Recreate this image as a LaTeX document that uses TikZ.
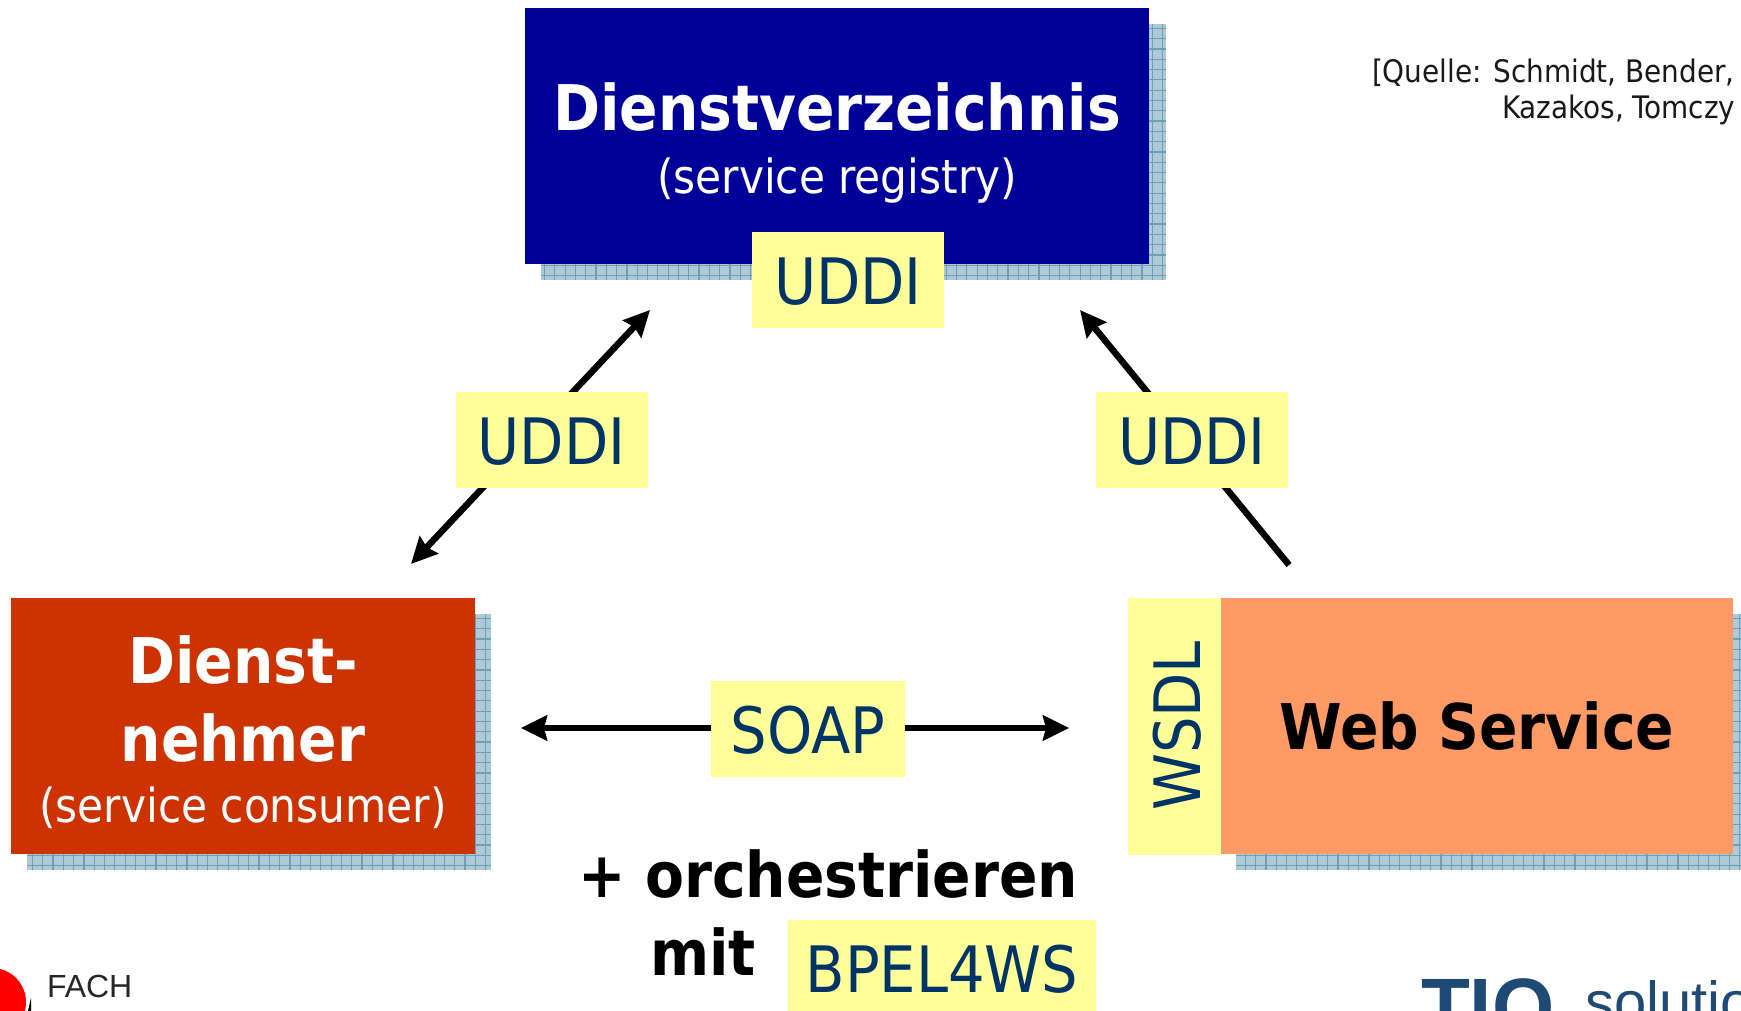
\documentclass[tikz,border=0pt]{standalone}
\usepackage{fontspec}
\setmainfont{DejaVu Sans Condensed}
\newfontfamily\logofont{Liberation Sans}
\usetikzlibrary{arrows.meta}
\definecolor{regblue}{HTML}{000099}
\definecolor{consumerred}{HTML}{CC3300}
\definecolor{serviceorange}{HTML}{FF9966}
\definecolor{tagyellow}{HTML}{FFFF99}
\definecolor{tagtext}{HTML}{003366}
\definecolor{shadowfill}{HTML}{ADCAD6}
\definecolor{shadowline}{HTML}{6C9FB8}
\definecolor{logoblue}{HTML}{1F4A75}
\newcommand{\bigbold}{\fontsize{63}{76}\selectfont\bfseries}
\newcommand{\subtext}{\fontsize{47}{58}\selectfont}
\tikzset{
	box/.style={inner sep=0pt,outer sep=0pt,align=center},
	gridshadow/.style={box,fill=shadowfill,path picture={\draw[shadowline,line width=1.2pt,xstep=10.3pt,ystep=10.3pt] (path picture bounding box.south west) grid (path picture bounding box.north east);}},
	tag/.style={box,fill=tagyellow,text=tagtext,text height=49pt,text depth=0pt,font=\fontsize{64}{76}\selectfont},
}
\tikzstyle{bigArrow} = [line width=6.5pt,{Stealth[length=26pt,width=25pt,inset=3pt]}-{Stealth[length=26pt,width=25pt,inset=3pt]}]
\tikzstyle{oneArrow} = [line width=6.5pt,-{Stealth[length=26pt,width=25pt,inset=3pt]}]
\begin{document}
\begin{tikzpicture}[x=1pt,y=-1pt]
	\useasboundingbox (0,0) rectangle (1741,1011);
	% shadows
	\node (registryshadow) at (853.5,152) [gridshadow,minimum width=625,minimum height=256]{};
	\node (consumershadow) at (259,742) [gridshadow,minimum width=464,minimum height=256]{};
	\node (serviceshadow) at (1492.5,742) [gridshadow,minimum width=513,minimum height=256]{};
	% boxes
	\node (registry) at (837,136) [box,fill=regblue,text=white,minimum width=624,minimum height=256]{\rule{0pt}{62pt}{\bigbold Dienstverzeichnis}\\[25pt]{\subtext (service registry)}};
	\node (consumer) at (243,726) [box,fill=consumerred,text=white,minimum width=464,minimum height=256]{\rule{0pt}{60pt}{\bigbold Dienst-}\\[28pt]{\bigbold nehmer}\\[23pt]{\subtext (service consumer)}};
	\node (service) at (1477,726) [box,fill=serviceorange,minimum width=512,minimum height=256]{\bigbold Web Service};
	\node (wsdl) at (1174.5,726) [tag,rotate=90,text height=52pt,minimum width=257,minimum height=93]{WSDL};
	% arrows
	\coordinate (consumertip) at (411,564);
	\coordinate (registryleft) at (650,310);
	\coordinate (servicestart) at (1289,565);
	\coordinate (registryright) at (1080,310);
	\coordinate (soapleft) at (521,728);
	\coordinate (soapright) at (1069,728);
	\draw[bigArrow] (consumertip) -- (registryleft);
	\draw[oneArrow] (servicestart) -- (registryright);
	\draw[bigArrow] (soapleft) -- (soapright);
	% labels
	\node (udditop) at (848,280) [tag,minimum width=192,minimum height=96]{UDDI};
	\node (uddileft) at (551.5,440) [tag,minimum width=192,minimum height=96]{UDDI};
	\node (uddiright) at (1192,440) [tag,minimum width=192,minimum height=96]{UDDI};
	\node (soap) at (808,728.5) [tag,minimum width=194,minimum height=96]{SOAP};
	\node (bpel) at (942,968) [tag,minimum width=308,minimum height=96]{BPEL4WS};
	\node (orchestrate) at (578,897) [box,anchor=base west]{\bigbold + orchestrieren};
	\node (mit) at (650,975) [box,anchor=base west]{\bigbold mit};
	% source
	\node (source) at (1372,83) [box,anchor=base west,text=black!90,font=\fontsize{31}{38}\selectfont]{[Quelle: Schmidt, Bender,};
	\node (source1) at (1502,119) [box,anchor=base west,text=black!90,font=\fontsize{31}{38}\selectfont]{Kazakos, Tomczy};
	% logos
	\fill[red] (-8,1002) circle (34);
	\fill[black] (28,1011) -- (31,998) -- (31,1011) -- cycle;
	\node (fach) at (47,997) [box,anchor=base west,text=black!85,font=\logofont\fontsize{32}{38}\selectfont]{FACH};
	\node (tiq) at (1421,1034) [box,anchor=base west,text=logoblue,font=\logofont\fontsize{80}{90}\selectfont\bfseries]{TIQ};
	\node (solutions) at (1585,1022) [box,anchor=base west,text=logoblue,font=\logofont\fontsize{58}{70}\selectfont]{solutio};
\end{tikzpicture}
\end{document}
